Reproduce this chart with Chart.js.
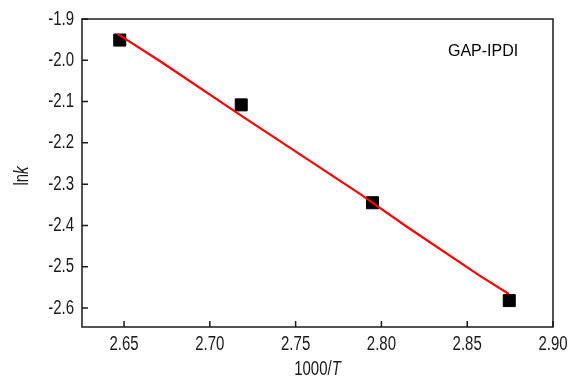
<!DOCTYPE html>
<html>
<head>
<meta charset="utf-8">
<script src="https://cdn.jsdelivr.net/npm/chart.js@4.4.1/dist/chart.umd.min.js"></script>
<style>
  html, body { margin: 0; background: #fff; }
  #wrap { width: 575px; height: 378px; }
</style>
</head>
<body>
<div id="wrap"><canvas id="arrhenius"></canvas></div>
<script>
// measured points: 1000/T vs ln k
const invT = [2.6475, 2.7183, 2.7948, 2.8745];
const lnK = [-1.951, -2.108, -2.345, -2.582];

// fitted line, traced along its length
const fitX = [2.6462, 2.6713, 2.7183, 2.7877, 2.8144, 2.8570, 2.8743];
const fitY = [-1.936, -2.003, -2.134, -2.324, -2.402, -2.521, -2.566];

const xTicks = [2.65, 2.70, 2.75, 2.80, 2.85, 2.90];
const yTicks = [-2.6, -2.5, -2.4, -2.3, -2.2, -2.1, -2.0, -1.9];

const FONT = "'Liberation Sans', Arial, sans-serif";
const INK = '#1a1a1a';
const SQUEEZE = 0.75; // condensed look for axis text

// write text squeezed horizontally; parts = [[text, italic], ...]
function narrowText(ctx, parts, x, y, align) {
  ctx.save();
  ctx.translate(x, y);
  ctx.scale(SQUEEZE, 1);
  let total = 0;
  const widths = parts.map(([t, ital]) => {
    ctx.font = (ital ? 'italic ' : '') + '20px ' + FONT;
    const w = ctx.measureText(t).width;
    total += w;
    return w;
  });
  let cx = align === 'right' ? -total : align === 'center' ? -total / 2 : 0;
  ctx.textAlign = 'left';
  ctx.textBaseline = 'middle';
  parts.forEach(([t, ital], i) => {
    ctx.font = (ital ? 'italic ' : '') + '20px ' + FONT;
    ctx.fillText(t, cx, 0);
    cx += widths[i];
  });
  ctx.restore();
}

// box around the plot, inward tick marks, tick labels and axis titles
const frame = {
  id: 'frame',
  afterDatasetsDraw(chart) {
    const { ctx, chartArea: a, scales } = chart;
    ctx.save();
    ctx.strokeStyle = INK;
    ctx.lineWidth = 1.5;
    ctx.strokeRect(a.left, a.top, a.right - a.left, a.bottom - a.top);

    ctx.beginPath();
    scales.x.ticks.forEach((t, i) => {
      const px = scales.x.getPixelForTick(i);
      ctx.moveTo(px, a.bottom);
      ctx.lineTo(px, a.bottom - 6);
    });
    scales.y.ticks.forEach((t, i) => {
      const py = scales.y.getPixelForTick(i);
      ctx.moveTo(a.left, py);
      ctx.lineTo(a.left + 6, py);
    });
    ctx.stroke();

    ctx.fillStyle = INK;
    scales.x.ticks.forEach((t, i) => {
      narrowText(ctx, [[t.value.toFixed(2), false]], scales.x.getPixelForTick(i), a.bottom + 17, 'center');
    });
    scales.y.ticks.forEach((t, i) => {
      narrowText(ctx, [[t.value.toFixed(1), false]], a.left - 8, scales.y.getPixelForTick(i), 'right');
    });

    // x title: 1000/T
    narrowText(ctx, [['1000/', false], ['T', true]], (a.left + a.right) / 2, 369, 'center');

    // y title: ln k
    ctx.save();
    ctx.translate(22, (a.top + a.bottom) / 2 + 3);
    ctx.rotate(-Math.PI / 2);
    narrowText(ctx, [['ln', false], ['k', true]], 0, 0, 'center');
    ctx.restore();

    // series label
    ctx.fillStyle = '#000';
    ctx.font = '16px ' + FONT;
    ctx.textAlign = 'left';
    ctx.textBaseline = 'middle';
    ctx.fillText('GAP-IPDI', 448, 52);
    ctx.restore();
  }
};

new Chart(document.getElementById('arrhenius'), {
  type: 'scatter',
  data: {
    datasets: [
      {
        label: 'fit',
        data: fitX.map((x, i) => ({ x, y: fitY[i] })),
        showLine: true,
        borderColor: '#ff0000',
        borderWidth: 2.2,
        pointRadius: 0,
        tension: 0
      },
      {
        label: 'GAP-IPDI',
        data: invT.map((x, i) => ({ x, y: lnK[i] })),
        pointStyle: 'rect',
        pointRadius: 8.5,
        pointBackgroundColor: '#000',
        pointBorderColor: '#000',
        pointBorderWidth: 1
      }
    ]
  },
  options: {
    responsive: true,
    maintainAspectRatio: false,
    animation: false,
    layout: { padding: { top: 19, right: 22, left: 0, bottom: 0 } },
    plugins: { legend: { display: false }, tooltip: { enabled: false } },
    scales: {
      x: {
        type: 'linear',
        min: 2.6255,
        max: 2.90,
        afterBuildTicks: s => { s.ticks = xTicks.map(v => ({ value: v })); },
        afterFit: s => { s.height = 51; },
        grid: { display: false, drawTicks: false },
        border: { display: false },
        ticks: { display: false }
      },
      y: {
        min: -2.646,
        max: -1.9,
        afterBuildTicks: s => { s.ticks = yTicks.map(v => ({ value: v })); },
        afterFit: s => { s.width = 82; },
        grid: { display: false, drawTicks: false },
        border: { display: false },
        ticks: { display: false }
      }
    }
  },
  plugins: [frame]
});
</script>
</body>
</html>
